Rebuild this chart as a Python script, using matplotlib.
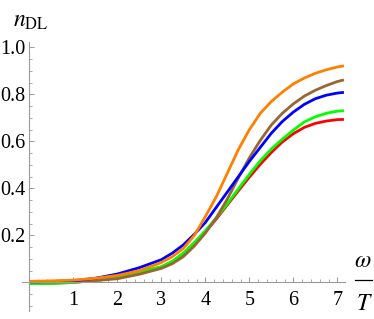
import matplotlib
matplotlib.use("Agg")
import matplotlib.pyplot as plt
from matplotlib.ticker import MultipleLocator
from matplotlib.lines import Line2D

plt.rcParams['font.family'] = ['Liberation Serif', 'DejaVu Serif']
plt.rcParams['mathtext.fontset'] = 'stix'

# omega/T values
x = [0, 0.5, 1, 1.5, 2, 2.5, 3, 3.25, 3.5, 3.75, 4, 4.25, 4.5, 4.75,
     5, 5.25, 5.5, 5.75, 6, 6.25, 6.5, 6.75, 7, 7.15]

orange = [0.005, 0.007, 0.010, 0.018, 0.030, 0.050, 0.085, 0.110, 0.145, 0.200,
          0.280, 0.365, 0.465, 0.565, 0.650, 0.720, 0.770, 0.810, 0.845, 0.870,
          0.890, 0.905, 0.917, 0.922]
blue = [0.003, 0.004, 0.007, 0.018, 0.036, 0.063, 0.097, 0.125, 0.160, 0.205,
        0.255, 0.320, 0.385, 0.450, 0.515, 0.575, 0.635, 0.685, 0.725, 0.758,
        0.782, 0.797, 0.806, 0.809]
brown = [0.002, 0.002, 0.004, 0.008, 0.016, 0.035, 0.060, 0.080, 0.110, 0.155,
         0.210, 0.275, 0.355, 0.445, 0.530, 0.605, 0.670, 0.720, 0.760, 0.793,
         0.818, 0.838, 0.855, 0.862]
green = [-0.005, -0.004, 0.000, 0.010, 0.022, 0.045, 0.067, 0.090, 0.125, 0.170,
         0.220, 0.275, 0.335, 0.398, 0.460, 0.518, 0.568, 0.610, 0.648, 0.683,
         0.705, 0.720, 0.729, 0.731]
red = [-0.004, -0.003, 0.000, 0.009, 0.021, 0.043, 0.066, 0.088, 0.122, 0.166,
       0.215, 0.270, 0.330, 0.390, 0.448, 0.503, 0.553, 0.598, 0.633, 0.660,
       0.677, 0.687, 0.693, 0.694]

xticks = [1, 2, 3, 4, 5, 6, 7]
xticklabels = ['1', '2', '3', '4', '5', '6', '7']
yticks = [0.2, 0.4, 0.6, 0.8, 1.0]
yticklabels = ['0.2', '0.4', '0.6', '0.8', '1.0']

W, H = 374, 319
fig = plt.figure(figsize=(W / 100, H / 100), dpi=100)
ax = fig.add_axes([21.8 / W, (H - 310.7) / H, 323 / W, 269.1 / H])
ax.set_xlim(-0.17, 7.17)
ax.set_ylim(-0.12, 1.025)

series = [(red, '#ff0000'), (green, '#00ff00'), (brown, '#996633'),
          (blue, '#0000ff'), (orange, '#ff8000')]
for ys, c in series:
    ax.plot(x, ys, color=c, lw=2.0, solid_capstyle='butt')

axcol = '#999999'
for s in ['top', 'right']:
    ax.spines[s].set_visible(False)
ax.spines['left'].set_position(('data', 0))
ax.spines['bottom'].set_position(('data', 0))
for s in ['left', 'bottom']:
    ax.spines[s].set_color(axcol)
    ax.spines[s].set_linewidth(0.8)

ax.set_xticks(xticks)
ax.set_xticklabels(xticklabels)
ax.set_yticks(yticks)
ax.set_yticklabels(yticklabels)
ax.xaxis.set_minor_locator(MultipleLocator(0.2))
ax.yaxis.set_minor_locator(MultipleLocator(0.05))
ax.tick_params(which='major', direction='in', length=3.5, width=0.7, color=axcol,
               labelsize=14.5)
ax.tick_params(which='minor', direction='in', length=2.0, width=0.6, color=axcol)
ax.tick_params(axis='x', which='major', pad=6)
ax.tick_params(axis='y', which='major', pad=2.5)

def fx(px):
    return px / W

def fy(py):
    return 1 - py / H

fig.text(fx(13), fy(27), r'$n_{\mathrm{DL}}$', fontsize=17, ha='left', va='baseline')
fig.text(fx(363), fy(267), r'$\omega$', fontsize=17, ha='center', va='baseline')
fig.text(fx(364), fy(310), r'$T$', fontsize=17, ha='center', va='baseline')
fig.add_artist(Line2D([fx(355), fx(372)], [fy(280), fy(280)], color='black', lw=0.9))

fig.savefig('out.png', dpi=100)
